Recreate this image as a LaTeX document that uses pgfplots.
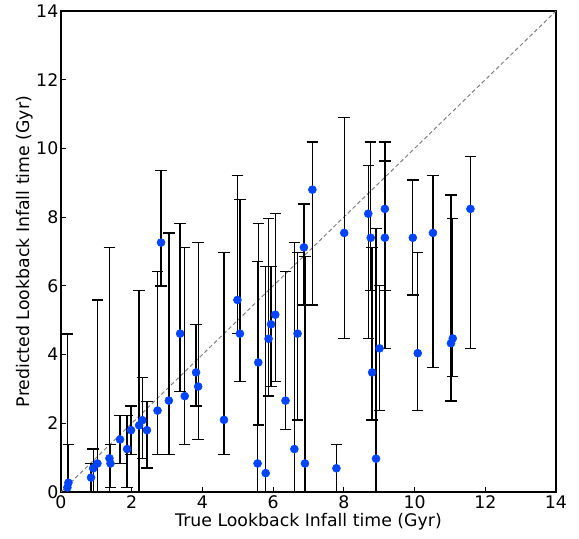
\documentclass[border=0pt]{standalone}
\usepackage{fontspec}
\setmainfont{DejaVu Sans}
\usepackage{pgfplots}
\usepackage{pgfplotstable}
\pgfplotsset{compat=1.18}
\definecolor{ptblue}{RGB}{0,68,255}

\pgfplotstableread{
x y lo hi
0.18 0.13 -1 4.60
0.21 0.27 -1 1.39
0.85 0.42 -1 0.83
0.91 0.69 -1 1.25
1.03 0.83 -1 5.59
1.37 0.98 -1 7.11
1.40 0.83 0.14 1.39
1.67 1.53 0.83 2.22
1.87 1.25 0.14 2.22
1.98 1.80 1.10 2.50
2.21 1.94 -1 5.86
2.30 2.09 0.98 3.34
2.43 1.80 0.70 2.64
2.73 2.37 1.10 6.42
2.83 7.26 6.00 9.35
3.05 2.66 1.10 7.54
3.37 4.61 2.93 7.82
3.50 2.79 1.39 7.11
3.82 3.48 2.50 4.88
3.88 3.07 1.53 7.26
4.61 2.10 1.10 6.97
4.99 5.59 4.61 9.21
5.06 4.61 3.21 8.52
5.58 3.77 1.95 7.82
5.56 0.83 -1 6.70
5.79 0.55 -1 6.56
5.87 4.46 2.79 7.96
5.94 4.88 3.07 6.56
6.06 5.16 3.21 8.10
6.35 2.66 1.82 6.41
6.60 1.25 -1 7.26
6.69 4.61 2.10 6.97
6.87 7.12 5.44 8.38
6.90 0.83 -1 6.85
7.11 8.80 5.44 10.19
7.79 0.69 -1 1.39
8.01 7.54 4.46 10.90
8.69 8.10 4.46 9.50
8.76 7.40 5.87 10.19
8.80 3.48 2.10 7.12
8.91 0.97 -1 7.67
9.01 4.18 2.37 6.01
9.16 8.24 5.87 10.19
9.16 7.40 4.18 9.63
9.95 7.40 5.73 9.08
10.09 4.04 2.37 6.98
10.52 7.54 3.63 9.21
11.03 4.33 2.65 8.64
11.08 4.47 3.36 7.96
11.58 8.24 4.18 9.76
}\data

\begin{document}
\begin{tikzpicture}
\begin{axis}[
  scale only axis, width=371.25pt, height=360.75pt,
  xmin=0, xmax=14, ymin=0, ymax=14,
  xtick={0,2,...,14}, ytick={0,2,...,14},
  tick align=inside, xtick pos=bottom, ytick pos=left,
  major tick length=3.75pt,
  tick style={black, line width=0.6pt},
  axis line style={black, line width=0.8pt},
  ticklabel style={font=\fontsize{13}{15}\selectfont},
  xticklabel style={yshift=1pt},
  yticklabel style={xshift=1.5pt},
  label style={font=\fontsize{13}{15}\selectfont},
  xlabel style={yshift=3pt},
  ylabel style={yshift=-4.5pt},
  /pgf/number format/assume math mode=true,
  xlabel={True Lookback Infall time (Gyr)},
  ylabel={Predicted Lookback Infall time (Gyr)},
]
\addplot[gray, line width=0.75pt, dash pattern=on 3pt off 2pt] coordinates {(0,0) (14,14)};
\addplot[only marks, mark=*, mark size=3pt, mark options={fill=ptblue, draw=ptblue},
  error bars/.cd, y dir=both, y explicit,
  error bar style={black, line width=1pt},
  error mark options={black, rotate=90, mark size=4.3pt, line width=1pt}]
  table[x=x, y=y, y error plus expr=\thisrow{hi}-\thisrow{y}, y error minus expr=\thisrow{y}-\thisrow{lo}] {\data};
\end{axis}
\pgfresetboundingbox
\path ([xshift=-45.75pt, yshift=-35.25pt]current axis.south west) rectangle ([xshift=17.25pt, yshift=8.25pt]current axis.north east);
\end{tikzpicture}
\end{document}
